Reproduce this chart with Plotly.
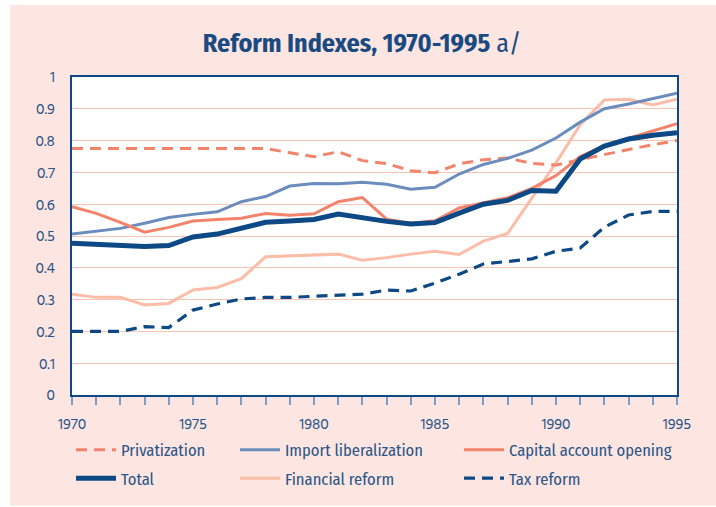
import plotly.graph_objects as go

years = list(range(1970, 1996))

privatization = [0.775, 0.775, 0.775, 0.775, 0.775, 0.775, 0.775, 0.775, 0.775, 0.762,
                 0.749, 0.765, 0.737, 0.728, 0.705, 0.699, 0.727, 0.740, 0.745, 0.728,
                 0.723, 0.740, 0.757, 0.772, 0.787, 0.800]
import_lib = [0.506, 0.515, 0.524, 0.540, 0.558, 0.568, 0.576, 0.608, 0.624, 0.657,
              0.665, 0.664, 0.669, 0.663, 0.647, 0.653, 0.695, 0.725, 0.744, 0.770,
              0.808, 0.858, 0.900, 0.915, 0.932, 0.949]
capital = [0.592, 0.571, 0.543, 0.512, 0.527, 0.547, 0.552, 0.556, 0.571, 0.565,
           0.570, 0.608, 0.621, 0.553, 0.540, 0.548, 0.588, 0.605, 0.620, 0.650,
           0.690, 0.750, 0.783, 0.808, 0.830, 0.853]
total = [0.477, 0.474, 0.471, 0.467, 0.470, 0.497, 0.506, 0.526, 0.543, 0.547,
         0.552, 0.569, 0.557, 0.546, 0.538, 0.542, 0.572, 0.600, 0.612, 0.643,
         0.641, 0.742, 0.783, 0.805, 0.817, 0.825]
financial = [0.317, 0.307, 0.307, 0.283, 0.288, 0.330, 0.338, 0.366, 0.435, 0.437,
             0.440, 0.443, 0.424, 0.432, 0.443, 0.452, 0.442, 0.484, 0.508, 0.620,
             0.730, 0.850, 0.928, 0.930, 0.912, 0.930]
tax = [0.200, 0.200, 0.200, 0.215, 0.212, 0.267, 0.286, 0.302, 0.307, 0.307,
       0.310, 0.315, 0.317, 0.330, 0.327, 0.352, 0.380, 0.412, 0.421, 0.428,
       0.452, 0.462, 0.528, 0.566, 0.577, 0.578]

y_tickvals = [0, 0.1, 0.2, 0.3, 0.4, 0.5, 0.6, 0.7, 0.8, 0.9, 1]
y_ticktext = ["0", "0.1", "0.2", "0.3", "0.4", "0.5", "0.6", "0.7", "0.8", "0.9", "1"]

NAVY = "#0d4a85"
SALMON = "#f3836b"
STEEL = "#6b8dbd"
PEACH = "#fbbda8"
PINK_BG = "#fde5e1"
GRID = "#f8c3b3"
TEXT = "#2a5688"
COND = "Fira Sans Condensed, DejaVu Sans Condensed, Liberation Sans Narrow, sans-serif"
REG = "Hind, Noto Sans, Open Sans, sans-serif"

FW, FH = 716.0, 507.0

fig = go.Figure()

series = [
    ("Financial reform", financial, PEACH, 3, "solid", "legend2"),
    ("Tax reform", tax, NAVY, 3.2, "11px,7px", "legend3"),
    ("Privatization", privatization, SALMON, 3, "11px,7px", "legend"),
    ("Import liberalization", import_lib, STEEL, 3, "solid", "legend2"),
    ("Capital account opening", capital, SALMON, 3, "solid", "legend3"),
    ("Total", total, NAVY, 5, "solid", "legend"),
]
rank = {"Privatization": 1, "Total": 2, "Import liberalization": 1,
        "Financial reform": 2, "Capital account opening": 1, "Tax reform": 2}

for name, vals, color, w, dash, lg in series:
    fig.add_trace(go.Scatter(
        x=years, y=vals, mode="lines", name=name,
        line=dict(color=color, width=w, dash=dash),
        legend=lg, legendrank=rank[name], legendgroup=name,
        hoverinfo="skip",
    ))

legend_common = dict(
    orientation="v", xanchor="left", yanchor="top",
    font=dict(family=COND, size=16.5, color=TEXT),
    bgcolor="rgba(0,0,0,0)", tracegroupgap=4, itemwidth=40,
)
L = 72.0
W = 605.0
T = 77.0
H = 318.0


def px_x(p):
    return (p - L) / W


def px_y(p):
    return (T + H - p) / H


LEG_TOP = px_y(432.5)

fig.update_layout(
    width=716, height=507,
    margin=dict(l=72, r=39, t=77, b=112, autoexpand=False),
    paper_bgcolor=PINK_BG, plot_bgcolor="white",
    title=dict(text="<b>Reform Indexes, 1970-1995</b> a/", x=362 / FW, xanchor="center",
               xref="container", y=1 - 43 / FH, yanchor="middle",
               font=dict(family=COND, size=26, color="#1a4a82")),
    legend=dict(x=px_x(71), y=LEG_TOP, **legend_common),
    legend2=dict(x=px_x(235), y=LEG_TOP, **legend_common),
    legend3=dict(x=px_x(459), y=LEG_TOP, **legend_common),
    showlegend=True,
    xaxis=dict(range=[1970, 1995], dtick=5, tick0=1970,
               showgrid=False, zeroline=False,
               showline=True, linecolor=NAVY, linewidth=2, mirror=True,
               ticks="outside", ticklen=8, tickwidth=1.5, tickcolor="#7f9cc3",
               ticklabelstandoff=5,
               minor=dict(dtick=1, ticks="outside", ticklen=8, tickwidth=1.5,
                          tickcolor="#7f9cc3", showgrid=False),
               tickfont=dict(family=REG, size=15.5, color=TEXT)),
    yaxis=dict(range=[0, 1], tickvals=y_tickvals, ticktext=y_ticktext,
               showgrid=True, gridcolor=GRID, gridwidth=1, zeroline=False,
               showline=True, linecolor=NAVY, linewidth=2, mirror=True,
               ticks="", ticklabelstandoff=12,
               tickfont=dict(family=REG, size=15.5, color=TEXT)),
    shapes=[
        dict(type="rect", xref="paper", yref="paper", x0=px_x(-5), x1=px_x(10),
             y0=px_y(520), y1=px_y(-5), fillcolor="white", line_width=0, layer="above"),
        dict(type="rect", xref="paper", yref="paper", x0=px_x(-5), x1=px_x(730),
             y0=px_y(5), y1=px_y(-5), fillcolor="white", line_width=0, layer="above"),
        dict(type="rect", xref="paper", yref="paper", x0=px_x(-5), x1=px_x(730),
             y0=px_y(520), y1=px_y(505.5), fillcolor="white", line_width=0, layer="above"),
    ],
)

fig.write_html("out.html", config={"displayModeBar": False},
               post_script="document.body.style.margin='0';")
